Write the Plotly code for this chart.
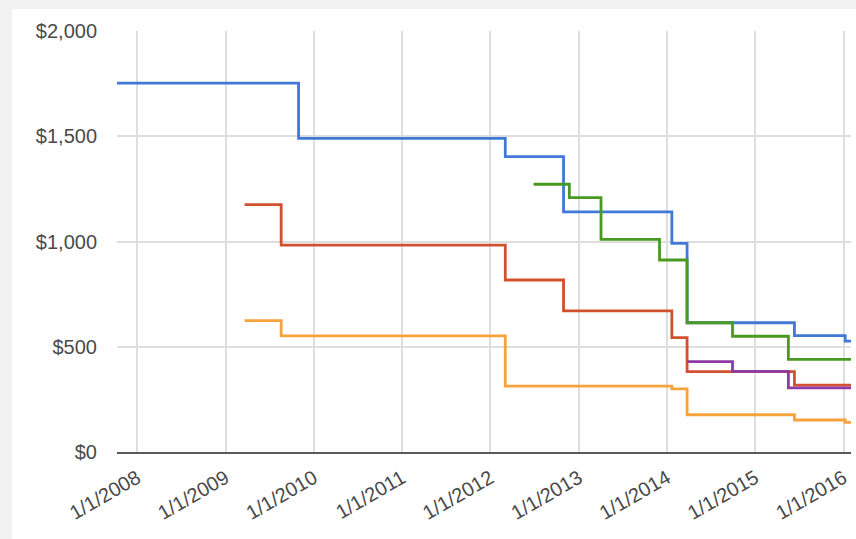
import plotly.graph_objects as go

# ---- data (step series: value holds until next date) ----
blue_dates = ["2007-10-10", "2009-10-30", "2012-03-03", "2012-10-30", "2014-01-21",
              "2014-03-25", "2015-06-12", "2016-01-08", "2016-02-01"]
blue_vals = [1752, 1490, 1403, 1141, 991, 614, 553, 527, 527]

red_dates = ["2009-03-21", "2009-08-19", "2012-03-03", "2012-10-30", "2014-01-21",
             "2014-03-25", "2015-06-12", "2016-02-01"]
red_vals = [1175, 983, 817, 670, 543, 382, 318, 316]

orange_dates = ["2009-03-21", "2009-08-19", "2012-03-03", "2014-01-21", "2014-03-25",
                "2015-06-12", "2016-01-08", "2016-02-01"]
orange_vals = [624, 552, 313, 300, 177, 152, 141, 141]

green_dates = ["2012-06-28", "2012-11-23", "2013-04-03", "2013-12-01", "2014-03-25",
               "2014-09-29", "2015-05-18", "2016-02-01"]
green_vals = [1272, 1208, 1010, 912, 614, 550, 440, 440]

purple_dates = ["2014-03-25", "2014-09-29", "2015-05-18", "2016-02-01"]
purple_vals = [429, 383, 305, 304]

tick_dates = ["2008-01-01", "2009-01-01", "2010-01-01", "2011-01-01", "2012-01-01",
              "2013-01-01", "2014-01-01", "2015-01-01", "2016-01-01"]
tick_text = ["1/1/2008", "1/1/2009", "1/1/2010", "1/1/2011", "1/1/2012",
             "1/1/2013", "1/1/2014", "1/1/2015", "1/1/2016"]
y_ticks = [0, 500, 1000, 1500, 2000]
y_text = ["$0", "$500", "$1,000", "$1,500", "$2,000"]

series = [
    (blue_dates, blue_vals, "#4179d6"),
    (red_dates, red_vals, "#d0502f"),
    (orange_dates, orange_vals, "#f7a23a"),
    (green_dates, green_vals, "#4a9a22"),
    (purple_dates, purple_vals, "#8f3aa6"),
]

fig = go.Figure()
for d, v, c in series:
    fig.add_trace(go.Scatter(x=d, y=v, mode="lines", line=dict(color=c, width=2.8, shape="hv"),
                             showlegend=False, hoverinfo="skip"))

L, R, T, B = 116.7, 5, 30.7, 87.3
W, H = 856, 539
pw, ph = W - L - R, H - T - B

fig.add_shape(type="rect", xref="paper", yref="paper",
              x0=(12 - L) / pw, x1=1.2, y0=-0.5, y1=(H - B - 9) / ph,
              fillcolor="white", line=dict(width=0), layer="below")

fig.update_layout(
    width=W, height=H,
    margin=dict(l=L, r=R, t=T, b=B),
    paper_bgcolor="#f2f2f2",
    plot_bgcolor="white",
    font=dict(family="Liberation Sans, Arial, sans-serif", size=20, color="#4a4a4a"),
    xaxis=dict(
        type="date",
        range=["2007-10-10", "2016-02-01"],
        tickmode="array", tickvals=tick_dates, ticktext=tick_text,
        tickangle=-30,
        showgrid=True, gridcolor="#dedede", gridwidth=1.5,
        showline=True, linecolor="#5a5a5a", linewidth=1.5,
        zeroline=False, ticks="", ticklabelstandoff=5,
    ),
    yaxis=dict(
        range=[0, 2000],
        tickmode="array", tickvals=y_ticks, ticktext=y_text,
        showgrid=True, gridcolor="#dedede", gridwidth=1.5,
        zeroline=False, showline=False, ticks="", ticklabelstandoff=19,
    ),
)

fig.write_html("out.html")
